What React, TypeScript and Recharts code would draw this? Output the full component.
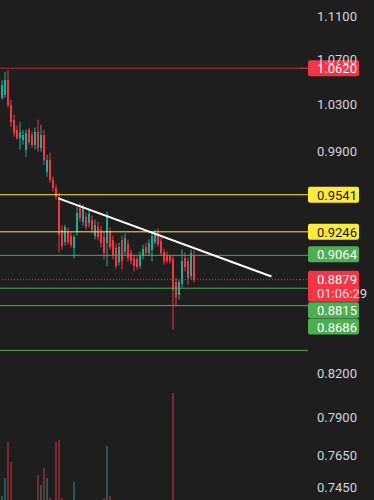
import React from 'react';
import { ComposedChart, Bar, XAxis, YAxis, ReferenceLine, Cell } from 'recharts';

// candles, oldest first
const opens = [
  1.0358, 1.0384, 1.0516, 1.0297, 1.0166, 1.0081, 1.0013, 0.9996, 0.9912, 1.0081,
  1.0038, 0.9954, 1.0064, 0.9929, 1.0038, 0.9729, 0.9828, 0.9663, 0.9598, 0.9525,
  0.9264, 0.9170, 0.9248, 0.9217, 0.9124, 0.9248, 0.9438, 0.9326, 0.9366, 0.9319,
  0.9342, 0.9217, 0.9287, 0.9264, 0.9209, 0.9162, 0.9248, 0.9186, 0.9124, 0.9010,
  0.9186, 0.9093, 0.9155, 0.9078, 0.9047, 0.9032, 0.8986, 0.9055, 0.9131, 0.9085,
  0.9108, 0.9170, 0.9233, 0.9178, 0.9093, 0.9070, 0.9055, 0.9032, 0.8865, 0.8761,
  0.8850, 0.9047, 0.9017, 0.8903, 0.9070,
];
const highs = [
  1.0516, 1.0587, 1.0605, 1.0340, 1.0210, 1.0115, 1.0149, 1.0081, 1.0081, 1.0098,
  1.0064, 1.0098, 1.0166, 1.0123, 1.0081, 0.9870, 0.9887, 0.9688, 0.9623, 0.9558,
  0.9295, 0.9303, 0.9280, 0.9248, 0.9225, 0.9446, 0.9477, 0.9461, 0.9398, 0.9422,
  0.9374, 0.9342, 0.9326, 0.9295, 0.9248, 0.9406, 0.9280, 0.9217, 0.9155, 0.9162,
  0.9217, 0.9233, 0.9186, 0.9108, 0.9070, 0.9055, 0.9093, 0.9147, 0.9162, 0.9186,
  0.9241, 0.9264, 0.9272, 0.9201, 0.9116, 0.9093, 0.9070, 0.9055, 0.8895, 0.8880,
  0.9108, 0.9085, 0.9047, 0.9108, 0.9100,
];
const lows = [
  1.0340, 1.0358, 1.0270, 1.0106, 1.0021, 0.9996, 0.9912, 0.9954, 0.9853, 0.9954,
  0.9929, 0.9912, 0.9895, 0.9895, 0.9786, 0.9688, 0.9639, 0.9566, 0.9501, 0.9085,
  0.9108, 0.9139, 0.9147, 0.9124, 0.9040, 0.9217, 0.9326, 0.9295, 0.9264, 0.9280,
  0.9233, 0.9186, 0.9178, 0.9124, 0.9032, 0.8979, 0.9108, 0.9032, 0.8964, 0.8986,
  0.8956, 0.9062, 0.9017, 0.8994, 0.8941, 0.8956, 0.8964, 0.9032, 0.9062, 0.9062,
  0.9017, 0.9147, 0.9131, 0.9062, 0.8994, 0.9002, 0.9002, 0.8513, 0.8680, 0.8731,
  0.8820, 0.8941, 0.8843, 0.8880, 0.8858,
];
const closes = [
  1.0472, 1.0516, 1.0297, 1.0149, 1.0055, 1.0013, 1.0064, 1.0038, 1.0055, 0.9979,
  0.9954, 1.0064, 0.9929, 1.0038, 0.9828, 0.9828, 0.9663, 0.9598, 0.9525, 0.9225,
  0.9139, 0.9280, 0.9170, 0.9147, 0.9209, 0.9398, 0.9358, 0.9438, 0.9287, 0.9390,
  0.9264, 0.9303, 0.9209, 0.9162, 0.9085, 0.9382, 0.9131, 0.9055, 0.8986, 0.9131,
  0.9017, 0.9201, 0.9040, 0.9017, 0.8986, 0.8971, 0.9062, 0.9116, 0.9085, 0.9162,
  0.9217, 0.9233, 0.9155, 0.9085, 0.9017, 0.9017, 0.9017, 0.8805, 0.8746, 0.8865,
  0.9017, 0.8971, 0.8895, 0.9085, 0.8879,
];
// volume, thousands
const volumes = [
  4, 22, 58, 38, 0, 0, 0, 0, 0, 0,
  0, 0, 25, 15, 32, 22, 2, 0, 58, 60,
  2, 0, 0, 0, 18, 0, 0, 0, 0, 0,
  0, 0, 0, 0, 2, 54, 4, 0, 0, 0,
  0, 0, 0, 0, 0, 0, 0, 0, 0, 0,
  0, 0, 0, 0, 0, 0, 0, 107, 0, 0,
  0, 0, 0, 0, 0,
];

const slotCount = 100; // candles + empty space on the right
const priceTicks = [1.11, 1.07, 1.03, 0.99, 0.82, 0.79, 0.765, 0.745];
const levelPrices = [1.062, 0.9541, 0.9246, 0.9064, 0.8815, 0.8686, 0.8363];
const lastPrice = 0.8879;
const countdown = '01:06:29';
const trendFrom = { i: 19, price: 0.9512 };
const trendTo = { i: 90, price: 0.8903 };

const BG = '#1e1e1e';
const UP = '#22ab94';
const DOWN = '#f23645';
const YELLOW = '#ffeb3b';
const GREEN = '#4caf50';
const FONT = 'Roboto, sans-serif';

const rows = Array.from({ length: slotCount }, (_, i) => ({
  i,
  o: opens[i],
  h: highs[i],
  l: lows[i],
  c: closes[i],
  v: volumes[i] ?? 0,
}));

const Candle = (props: any) => {
  const { x, y, width, height, payload } = props;
  if (!payload || payload.o == null) return null;
  const hi = Math.log(payload.h);
  const lo = Math.log(payload.l);
  const span = hi - lo || 1;
  const h = Math.abs(height);
  const top = Math.min(y, y + height);
  const py = (v: number) => top + (h * (hi - Math.log(v))) / span;
  const color = payload.c >= payload.o ? UP : DOWN;
  const b1 = py(Math.max(payload.o, payload.c));
  const b2 = py(Math.min(payload.o, payload.c));
  const cx = x + width / 2;
  return (
    <g>
      <line x1={cx} x2={cx} y1={top} y2={top + h} stroke={color} strokeWidth={1} />
      <rect x={x} y={b1} width={width} height={Math.max(1, b2 - b1)} fill={color} shapeRendering="crispEdges" />
    </g>
  );
};

const tag = (text: string, bg: string, fg: string, lineColor: string, shift: number, sub?: string, dashed?: boolean) =>
  (p: any) => {
    const vb = p.viewBox;
    if (!vb) return null;
    const right = vb.x + vb.width;
    const ly = vb.y;
    const top = ly + shift;
    const h = sub ? 31 : 16;
    return (
      <g>
        <line x1={right} x2={right + 8} y1={ly} y2={ly} stroke={lineColor} strokeDasharray={dashed ? '1 2' : undefined} />
        {text && (
          <>
            <rect x={right + 8} y={top} width={51} height={h} rx={2} fill={bg} />
            <text x={right + 17} y={top + 8.5} dominantBaseline="central" fill={fg} fontSize={13} fontFamily={FONT}>
              {text}
            </text>
            {sub && (
              <text x={right + 17} y={top + 23} dominantBaseline="central" fill={fg} fillOpacity={0.85} fontSize={13} fontFamily={FONT}>
                {sub}
              </text>
            )}
          </>
        )}
      </g>
    );
  };

export default function App() {
  const levelStyle = [
    { color: DOWN, fg: '#ffffff', shift: -8 },
    { color: YELLOW, fg: '#131722', shift: -8 },
    { color: YELLOW, fg: '#131722', shift: -8 },
    { color: GREEN, fg: '#ffffff', shift: -9 },
    { color: GREEN, fg: '#ffffff', shift: 14 },
    { color: GREEN, fg: '#ffffff', shift: 13 },
    { color: GREEN, fg: '#ffffff', shift: 0, noTag: true },
  ];

  return (
    <div style={{ position: 'absolute', left: 0, top: 0, width: 374, height: 500, background: BG }}>
      <ComposedChart width={374} height={500} data={rows} margin={{ top: 0, right: 0, bottom: 0, left: 0 }}>
        <XAxis dataKey="i" hide xAxisId="price" />
        <XAxis dataKey="i" hide xAxisId="vol" />
        <YAxis
          yAxisId="price"
          orientation="right"
          width={74}
          scale="log"
          domain={[0.7368, 1.1251]}
          allowDataOverflow
          ticks={priceTicks}
          interval={0}
          tickFormatter={(v: number) => v.toFixed(4)}
          axisLine={false}
          tickLine={false}
          tickMargin={11}
          tick={{ fill: '#d1d4dc', fontSize: 13, fontFamily: FONT }}
        />
        <YAxis yAxisId="vol" hide domain={[0, 500]} />

        <Bar
          xAxisId="vol"
          yAxisId="vol"
          dataKey="v"
          barSize={2}
          isAnimationActive={false}
        >
          {rows.map((r) => (
            <Cell key={r.i} fill={r.c >= r.o ? 'rgba(34,171,148,0.45)' : 'rgba(242,54,69,0.45)'} />
          ))}
        </Bar>

        {levelPrices.map((p, k) => {
          const s = levelStyle[k];
          return (
            <ReferenceLine
              key={p}
              xAxisId="price"
              yAxisId="price"
              y={p}
              stroke={s.color}
              strokeWidth={1}
              strokeOpacity={k === 0 ? 0.75 : 1}
              ifOverflow="visible"
              label={tag(s.noTag ? '' : p.toFixed(4), s.color, s.fg, s.color, s.shift)}
            />
          );
        })}

        <ReferenceLine
          xAxisId="price"
          yAxisId="price"
          y={lastPrice}
          stroke={DOWN}
          strokeDasharray="1 2"
          ifOverflow="visible"
          label={tag(lastPrice.toFixed(4), DOWN, '#ffffff', DOWN, -9, countdown, true)}
        />

        <Bar
          xAxisId="price"
          yAxisId="price"
          dataKey={(d: any) => (d.o == null ? null : [d.l, d.h])}
          barSize={2}
          shape={<Candle />}
          isAnimationActive={false}
        />

        <ReferenceLine
          xAxisId="price"
          yAxisId="price"
          segment={[
            { x: trendFrom.i, y: trendFrom.price },
            { x: trendTo.i, y: trendTo.price },
          ]}
          stroke="#ffffff"
          strokeWidth={2}
          ifOverflow="visible"
        />
      </ComposedChart>
    </div>
  );
}
